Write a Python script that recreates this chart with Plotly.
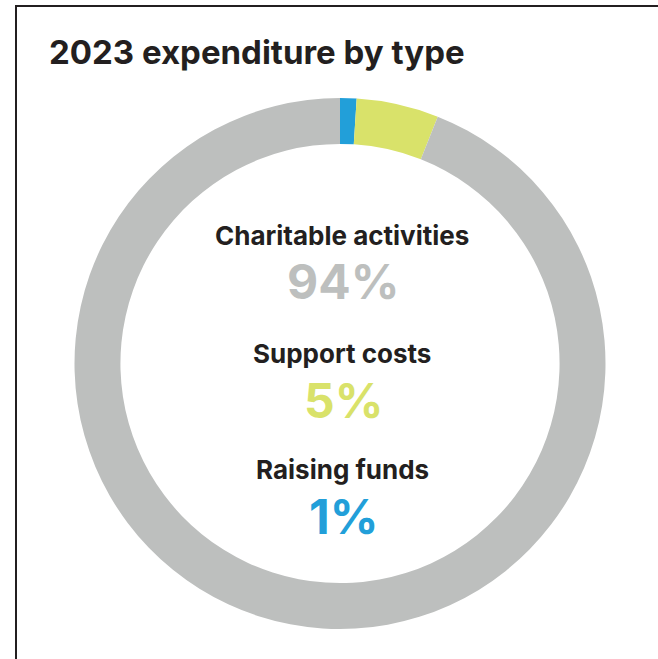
import plotly.graph_objects as go

# Expenditure split for 2023
categories = ["Raising funds", "Support costs", "Charitable activities"]
shares = [1, 5, 94]
colors = ["#229fd9", "#d9e26a", "#bdbfbe"]

W, H = 658, 659
FONT = "Inter"
INK = "#231f20"


def px(x):
    return x / W


def py(y):
    return 1 - y / H


fig = go.Figure(
    go.Pie(
        labels=categories,
        values=shares,
        hole=0.827,
        sort=False,
        direction="clockwise",
        rotation=0,
        marker=dict(colors=colors, line=dict(width=0)),
        textinfo="none",
        hoverinfo="label+percent",
        showlegend=False,
        domain=dict(x=[px(74.5), px(605.5)], y=[py(629), py(98)]),
    )
)

annotations = [
    dict(text="2023 expenditure by type", x=px(47), y=py(52), xanchor="left",
         yanchor="middle", font=dict(family=FONT, size=33, weight=700, color=INK)),
]

# Centre legend: label above each share, share in slice colour
label_y = {"Charitable activities": 235, "Support costs": 353, "Raising funds": 469}
value_y = {"Charitable activities": 281, "Support costs": 400, "Raising funds": 516}
for cat, val, col in zip(categories, shares, colors):
    annotations.append(dict(text=cat, x=px(342), y=py(label_y[cat]),
                            xanchor="center", yanchor="middle",
                            font=dict(family=FONT, size=26, weight=700, color=INK)))
    annotations.append(dict(text=f"{val}%", x=px(343), y=py(value_y[cat]),
                            xanchor="center", yanchor="middle",
                            font=dict(family=FONT, size=48, weight=700, color=col)))

for a in annotations:
    a.update(xref="paper", yref="paper", showarrow=False)

fig.update_layout(
    width=W,
    height=H,
    margin=dict(l=0, r=0, t=0, b=0),
    paper_bgcolor="white",
    plot_bgcolor="white",
    annotations=annotations,
    shapes=[
        dict(type="line", xref="paper", yref="paper", x0=px(15), x1=1.0, y0=py(6), y1=py(6),
             line=dict(color=INK, width=2)),
        dict(type="line", xref="paper", yref="paper", x0=px(16), x1=px(16), y0=py(5), y1=0.0,
             line=dict(color=INK, width=2)),
    ],
)

fig.write_html("out.html")
